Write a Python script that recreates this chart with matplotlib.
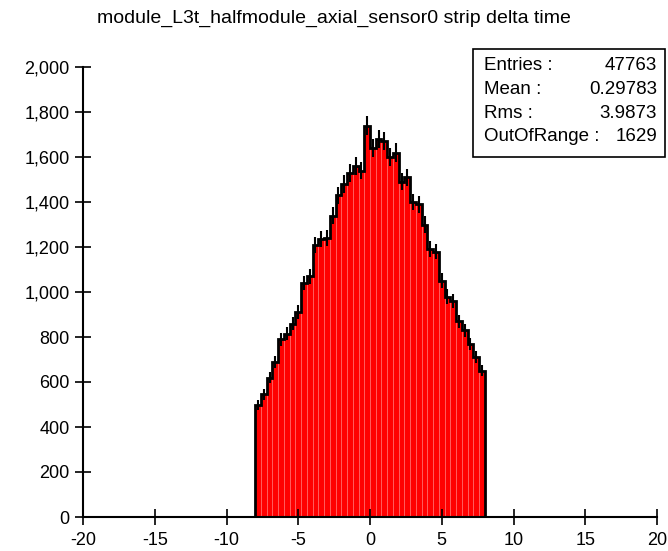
import matplotlib
matplotlib.use("Agg")
import matplotlib.pyplot as plt
import numpy as np
from matplotlib.patches import Rectangle
from matplotlib.ticker import FuncFormatter

plt.rcParams["font.family"] = ["Liberation Sans", "DejaVu Sans"]
plt.rcParams["axes.unicode_minus"] = False

title = "module_L3t_halfmodule_axial_sensor0 strip delta time"

# 100 bins over [-20, 20]
x_min, x_max, n_bins = -20.0, 20.0, 100

# tails outside the main block (-20..-8 and 8..20), mostly empty
left_tail = [0, 1, 0, 0, 1, 0, 0, 0, 0, 1, 2, 1, 0, 0, 0, 1, 0, 0, 1, 0,
             0, 2, 1, 0, 0, 1, 0, 0, 1, 1]
# main block -8..8
core = [498, 545, 620, 690, 790, 815, 860, 910, 1040, 1070,
        1210, 1235, 1240, 1340, 1430, 1480, 1530, 1560, 1540, 1740,
        1640, 1680, 1670, 1600, 1620, 1490, 1510, 1400, 1390, 1300,
        1190, 1180, 1050, 980, 960, 870, 830, 770, 710, 650]
right_tail = [1, 0, 1, 1, 0, 0, 2, 1, 0, 0, 1, 0, 0, 0, 1, 1, 0, 0, 0, 1,
              0, 1, 0, 0, 0, 1, 0, 0, 1, 0]

stats_labels = ["Entries :", "Mean :", "Rms :", "OutOfRange :"]
stats_values = ["47763", "0.29783", "3.9873", "1629"]

counts = np.array(left_tail + core + right_tail, dtype=float)
edges = np.linspace(x_min, x_max, n_bins + 1)
centers = 0.5 * (edges[:-1] + edges[1:])
width = edges[1] - edges[0]

W, H = 668, 551
fig = plt.figure(figsize=(W / 100, H / 100), dpi=100)
ax = fig.add_axes([83 / W, (H - 517) / H, 574 / W, 450 / H])

ax.bar(centers, counts, width=width, color="#ff0000", edgecolor="#ff6a6a",
       linewidth=0.5, zorder=1)
ax.stairs(counts, edges, color="black", linewidth=2, zorder=3)
err = np.sqrt(counts)
m = counts > 0
ax.vlines(centers[m], (counts - err)[m], (counts + err)[m], color="black",
          linewidth=1.5, zorder=3)

ax.set_xlim(x_min, x_max)
ax.set_ylim(0, 2000)
ax.set_xticks(np.arange(-20, 21, 5))
ax.set_yticks(np.arange(0, 2001, 200))
ax.yaxis.set_major_formatter(FuncFormatter(lambda v, _: f"{int(v):,}"))
ax.tick_params(direction="inout", length=11, width=1.2, labelsize=13,
               colors="black")
ax.tick_params(axis="x", pad=5)
ax.tick_params(axis="y", pad=4)
for s in ["top", "right"]:
    ax.spines[s].set_visible(False)
for s in ["left", "bottom"]:
    ax.spines[s].set_linewidth(1.5)

fig.text(0.5, 1 - 18 / H, title, ha="center", va="center", fontsize=14)

# stats box
fig.add_artist(Rectangle((473 / W, 1 - 157 / H), 192 / W, 108 / H,
                         transform=fig.transFigure, facecolor="white",
                         edgecolor="black", linewidth=1.2))
for i, (lab, val) in enumerate(zip(stats_labels, stats_values)):
    y = 1 - (66 + 23.5 * i) / H
    fig.text(484 / W, y, lab, ha="left", va="center", fontsize=13.5)
    fig.text(657 / W, y, val, ha="right", va="center", fontsize=13.5)

fig.savefig("out.png", dpi=100)
